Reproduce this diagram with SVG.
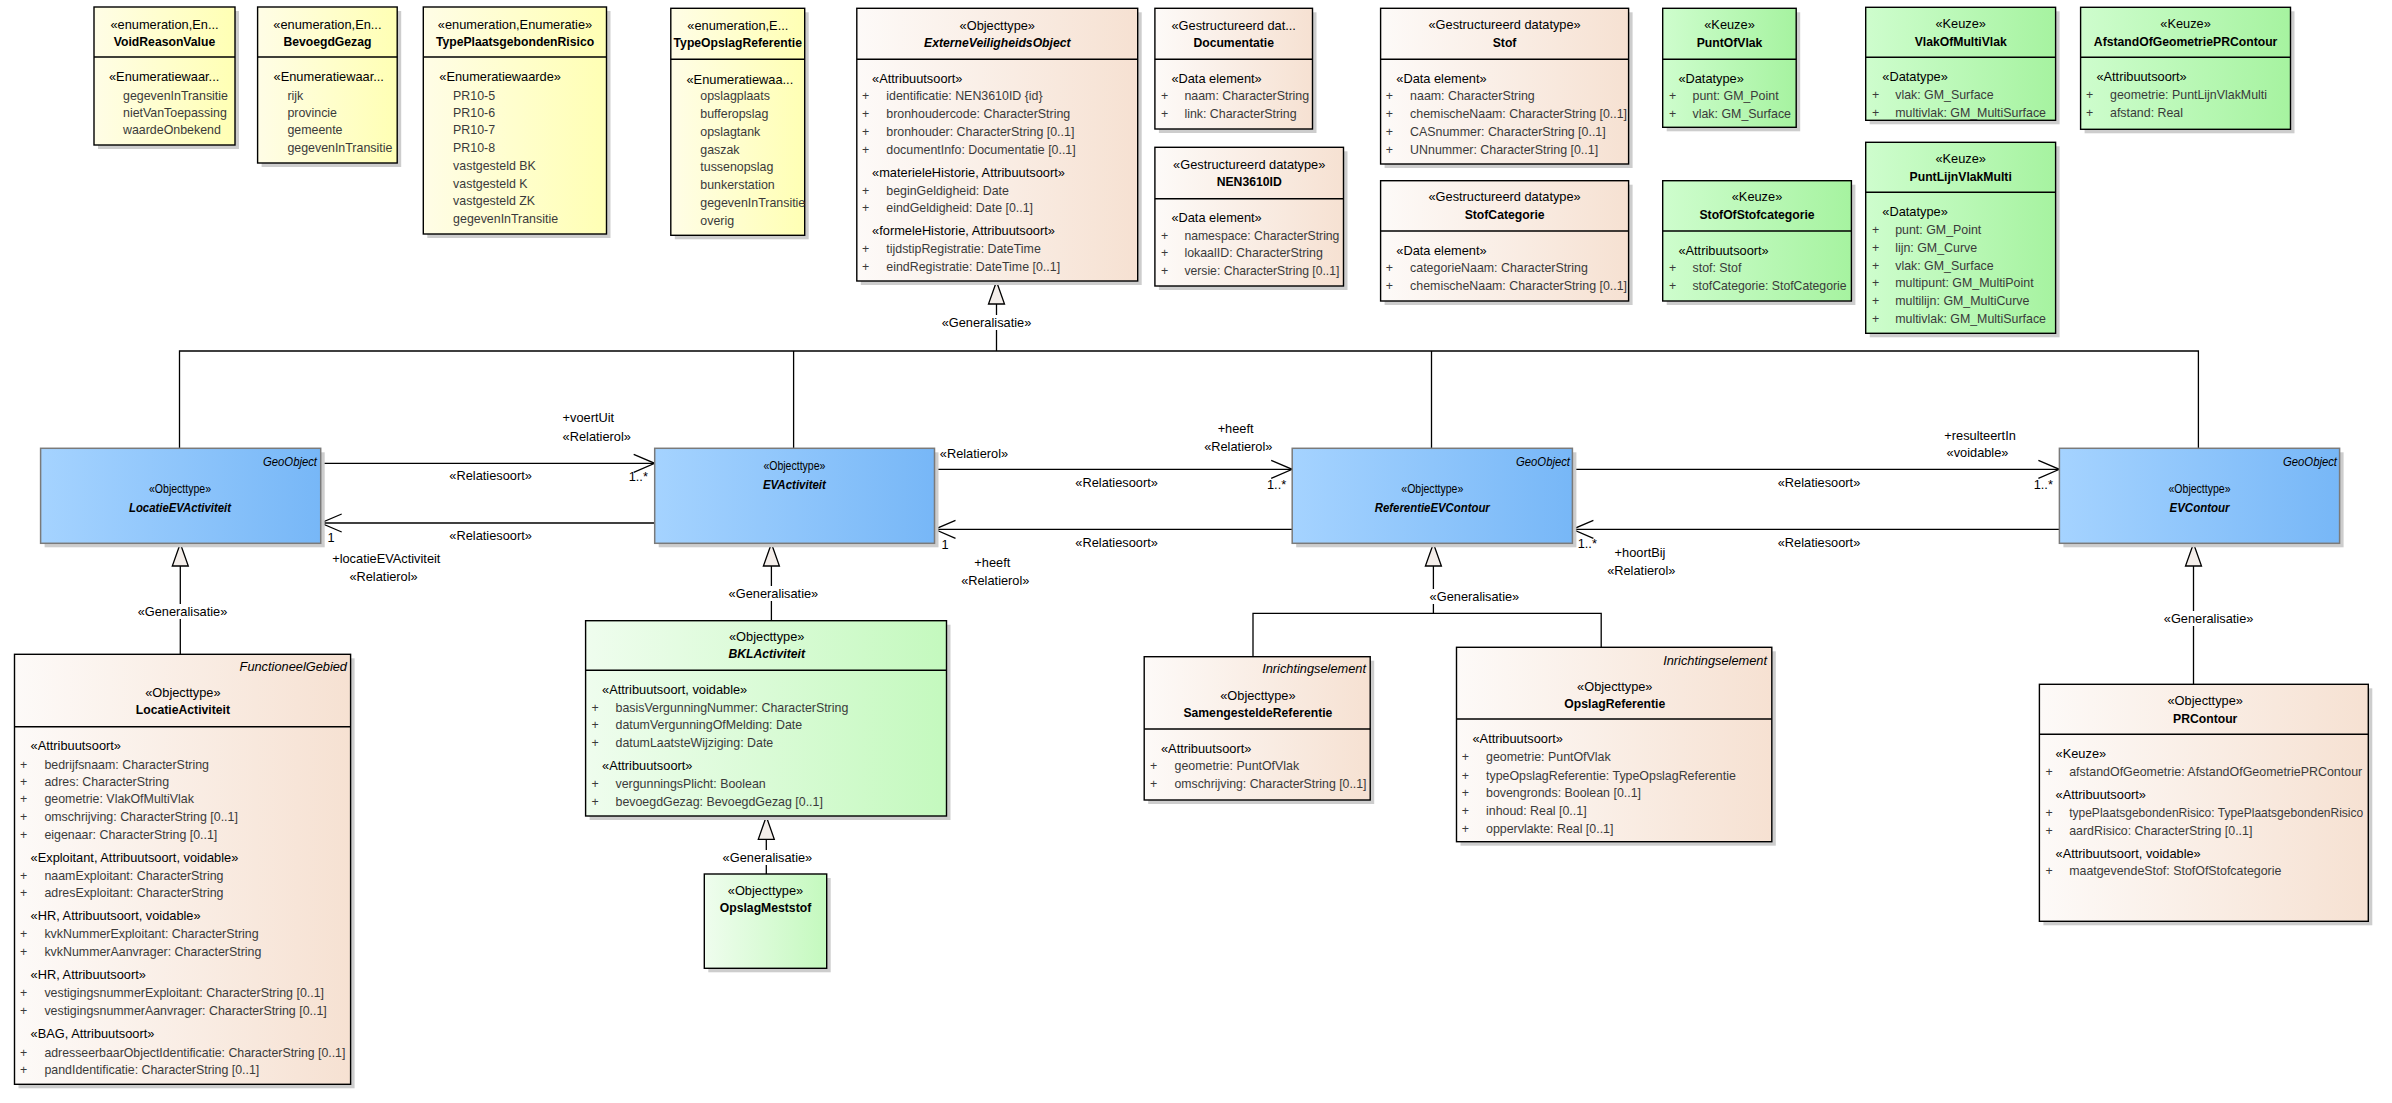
<svg xmlns="http://www.w3.org/2000/svg" width="2392" height="1103" viewBox="0 0 2392 1103">
<defs>
<linearGradient id="gEnum" x1="0" y1="0" x2="1" y2="0"><stop offset="0" stop-color="#fffde6"/><stop offset="1" stop-color="#ffffb4"/></linearGradient>
<linearGradient id="gDt" x1="0" y1="0" x2="1" y2="0"><stop offset="0" stop-color="#fdfaf8"/><stop offset="1" stop-color="#f6e1d2"/></linearGradient>
<linearGradient id="gKeuze" x1="0" y1="0" x2="1" y2="0"><stop offset="0" stop-color="#cefdcd"/><stop offset="1" stop-color="#a6f3a0"/></linearGradient>
<linearGradient id="gLg" x1="0" y1="0" x2="1" y2="0"><stop offset="0" stop-color="#effdee"/><stop offset="1" stop-color="#c4f9be"/></linearGradient>
<linearGradient id="gBlue" x1="0" y1="0" x2="1" y2="0"><stop offset="0" stop-color="#a5d3ff"/><stop offset="1" stop-color="#77b7f7"/></linearGradient>
<marker id="open" viewBox="-23 -11 25 22" refX="0" refY="0" markerWidth="25" markerHeight="22" markerUnits="userSpaceOnUse" orient="auto"><path d="M-21,-9 L0,0 L-21,9" fill="none" stroke="#000" stroke-width="1.3"/></marker>
<style>
.sh{fill:#cdcdcd}
.bx{stroke:#000;stroke-width:1.4}
.bb{stroke:#7a7a7a;stroke-width:1.5}
.dv{stroke:#000;stroke-width:1.4}
text{font-family:"Liberation Sans",Arial,sans-serif;font-size:12.8px;fill:#000}
.c{text-anchor:middle}
.n{font-weight:bold;font-size:12.2px}
.ni{font-weight:bold;font-style:italic;font-size:12.2px}
.a{fill:#3a3a3a;font-size:12.4px}
.p{fill:#3a3a3a;text-anchor:middle;font-size:12.4px}
.r{text-anchor:end;font-style:italic}
.ln{fill:none;stroke:#000;stroke-width:1.3}
.tri{fill:#f4eeea;stroke:#000;stroke-width:1.3}
.wb{fill:#fff}
</style>
</defs>

<g id="connectors">
<polyline class="ln" points="179.5,448.3 179.5,351 2198.4,351 2198.4,448.3"/>
<line class="ln" x1="793.6" y1="351" x2="793.6" y2="448.3"/>
<line class="ln" x1="1431.5" y1="351" x2="1431.5" y2="448.3"/>
<line class="ln" x1="996.5" y1="304" x2="996.5" y2="351"/>
<polygon class="tri" points="996.5,281.5 988.5,304 1004.5,304"/>
<rect class="wb" x="941" y="315" width="91" height="15"/>
<text class="c" x="986.5" y="326.5">«Generalisatie»</text>

<line class="ln" x1="180.3" y1="566" x2="180.3" y2="654.3"/>
<polygon class="tri" points="180.3,543.5 172.3,566 188.3,566"/>
<rect class="wb" x="137" y="604" width="91" height="15"/>
<text class="c" x="182.5" y="616">«Generalisatie»</text>

<line class="ln" x1="771.4" y1="566" x2="771.4" y2="620.7"/>
<polygon class="tri" points="771.4,543.5 763.4,566 779.4,566"/>
<rect class="wb" x="728" y="586" width="91" height="15"/>
<text class="c" x="773.4" y="598">«Generalisatie»</text>

<line class="ln" x1="766.3" y1="839.3" x2="766.3" y2="874"/>
<polygon class="tri" points="766.3,816.5 758.3,839.3 774.3,839.3"/>
<rect class="wb" x="722" y="850" width="91" height="15"/>
<text class="c" x="767.4" y="862">«Generalisatie»</text>

<polyline class="ln" points="1433.4,566 1433.4,613.3"/>
<polyline class="ln" points="1253,656.7 1253,613.3 1601.2,613.3 1601.2,647.3"/>
<polygon class="tri" points="1433.4,543.5 1425.4,566 1441.4,566"/>
<rect class="wb" x="1429" y="589" width="91" height="15"/>
<text class="c" x="1474.4" y="601">«Generalisatie»</text>

<line class="ln" x1="2193.5" y1="566" x2="2193.5" y2="684.3"/>
<polygon class="tri" points="2193.5,543.5 2185.5,566 2201.5,566"/>
<rect class="wb" x="2163" y="611" width="91" height="15"/>
<text class="c" x="2208.6" y="623">«Generalisatie»</text>

<line class="ln" x1="320.7" y1="463.3" x2="654.7" y2="463.3" marker-end="url(#open)"/>
<line class="ln" x1="654.7" y1="523" x2="320.7" y2="523" marker-end="url(#open)"/>
<line class="ln" x1="934.5" y1="469.3" x2="1292.2" y2="469.3" marker-end="url(#open)"/>
<line class="ln" x1="1292.2" y1="529.3" x2="934.5" y2="529.3" marker-end="url(#open)"/>
<line class="ln" x1="1572.4" y1="469.3" x2="2059.4" y2="469.3" marker-end="url(#open)"/>
<line class="ln" x1="2059.4" y1="529.3" x2="1572.4" y2="529.3" marker-end="url(#open)"/>

<text x="562.6" y="422.2">+voertUit</text>
<text x="562.6" y="440.5">«Relatierol»</text>
<text class="c" x="490.6" y="480.2">«Relatiesoort»</text>
<text x="628.7" y="481.2">1..*</text>
<text class="c" x="490.6" y="540.2">«Relatiesoort»</text>
<text x="327.5" y="542.2">1</text>
<text x="332.2" y="563.2">+locatieEVActiviteit</text>
<text x="349.4" y="581.2">«Relatierol»</text>

<text x="939.8" y="458.2">«Relatierol»</text>
<text class="c" x="1116.6" y="487.2">«Relatiesoort»</text>
<text class="c" x="1235.6" y="433.2">+heeft</text>
<text class="c" x="1238.3" y="451.2">«Relatierol»</text>
<text x="1267" y="488.5">1..*</text>
<text class="c" x="1116.6" y="546.8">«Relatiesoort»</text>
<text x="941.5" y="548.8">1</text>
<text class="c" x="992.3" y="566.8">+heeft</text>
<text class="c" x="995.3" y="584.8">«Relatierol»</text>

<text class="c" x="1819" y="487.2">«Relatiesoort»</text>
<text class="c" x="1980.1" y="439.5">+resulteertIn</text>
<text class="c" x="1977.5" y="457.2">«voidable»</text>
<text x="2033.7" y="488.5">1..*</text>
<text class="c" x="1819" y="546.8">«Relatiesoort»</text>
<text x="1577.7" y="547.8">1..*</text>
<text class="c" x="1640" y="557.2">+hoortBij</text>
<text class="c" x="1641.3" y="575.2">«Relatierol»</text>
</g>

<g id="VoidReasonValue">
<rect class="sh" x="98" y="11" width="141" height="138"/>
<rect class="bx" fill="url(#gEnum)" x="94" y="7" width="141" height="138"/>
<line class="dv" x1="94" y1="57" x2="235" y2="57"/>
<text class="c" x="164.5" y="28.5">«enumeration,En...</text>
<text class="c n" x="164.5" y="46">VoidReasonValue</text>
<text x="109" y="81">«Enumeratiewaar...</text>
<text class="a" x="123" y="99.5">gegevenInTransitie</text>
<text class="a" x="123" y="117">nietVanToepassing</text>
<text class="a" x="123" y="134">waardeOnbekend</text>
</g>

<g id="BevoegdGezag">
<rect class="sh" x="261.6" y="11" width="139.6" height="156"/>
<rect class="bx" fill="url(#gEnum)" x="257.6" y="7" width="139.6" height="156"/>
<line class="dv" x1="257.6" y1="57" x2="397.2" y2="57"/>
<text class="c" x="327.4" y="28.5">«enumeration,En...</text>
<text class="c n" x="327.4" y="46">BevoegdGezag</text>
<text x="273.6" y="81">«Enumeratiewaar...</text>
<text class="a" x="287.4" y="99.5">rijk</text>
<text class="a" x="287.4" y="117">provincie</text>
<text class="a" x="287.4" y="134">gemeente</text>
<text class="a" x="287.4" y="152">gegevenInTransitie</text>
</g>

<g id="TypePlaatsgebondenRisico">
<rect class="sh" x="427.3" y="11" width="183.2" height="227"/>
<rect class="bx" fill="url(#gEnum)" x="423.3" y="7" width="183.2" height="227"/>
<line class="dv" x1="423.3" y1="57" x2="606.5" y2="57"/>
<text class="c" x="515" y="28.5">«enumeration,Enumeratie»</text>
<text class="c n" x="515" y="46">TypePlaatsgebondenRisico</text>
<text x="439.3" y="81">«Enumeratiewaarde»</text>
<text class="a" x="453.1" y="99.5">PR10-5</text>
<text class="a" x="453.1" y="117">PR10-6</text>
<text class="a" x="453.1" y="134">PR10-7</text>
<text class="a" x="453.1" y="152">PR10-8</text>
<text class="a" x="453.1" y="170">vastgesteld BK</text>
<text class="a" x="453.1" y="188">vastgesteld K</text>
<text class="a" x="453.1" y="205">vastgesteld ZK</text>
<text class="a" x="453.1" y="223">gegevenInTransitie</text>
</g>

<g id="TypeOpslagReferentie">
<rect class="sh" x="674.8" y="12.3" width="133.9" height="227"/>
<rect class="bx" fill="url(#gEnum)" x="670.8" y="8.3" width="133.9" height="227"/>
<line class="dv" x1="670.8" y1="59.3" x2="804.7" y2="59.3"/>
<text class="c" x="737.8" y="29.5">«enumeration,E...</text>
<text class="c n" x="737.8" y="47">TypeOpslagReferentie</text>
<text x="686.5" y="83.5">«Enumeratiewaa...</text>
<text class="a" x="700.3" y="100.2">opslagplaats</text>
<text class="a" x="700.3" y="118.2">bufferopslag</text>
<text class="a" x="700.3" y="136.2">opslagtank</text>
<text class="a" x="700.3" y="154.2">gaszak</text>
<text class="a" x="700.3" y="171.2">tussenopslag</text>
<text class="a" x="700.3" y="188.8">bunkerstation</text>
<text class="a" x="700.3" y="206.8">gegevenInTransitie</text>
<text class="a" x="700.3" y="225.2">overig</text>
</g>

<g id="ExterneVeiligheidsObject">
<rect class="sh" x="860.8" y="12.3" width="280.9" height="272.7"/>
<rect class="bx" fill="url(#gDt)" x="856.8" y="8.3" width="280.9" height="272.7"/>
<line class="dv" x1="856.8" y1="59.3" x2="1137.7" y2="59.3"/>
<text class="c" x="997.3" y="29.5">«Objecttype»</text>
<text class="c ni" x="997.3" y="47">ExterneVeiligheidsObject</text>
<text x="872.1" y="83.2">«Attribuutsoort»</text>
<text class="p" x="865.6" y="100.2">+</text><text class="a" x="886.3" y="100.2">identificatie: NEN3610ID {id}</text>
<text class="p" x="865.6" y="118.2">+</text><text class="a" x="886.3" y="118.2">bronhoudercode: CharacterString</text>
<text class="p" x="865.6" y="136.2">+</text><text class="a" x="886.3" y="136.2">bronhouder: CharacterString [0..1]</text>
<text class="p" x="865.6" y="154.2">+</text><text class="a" x="886.3" y="154.2">documentInfo: Documentatie [0..1]</text>
<text x="872.1" y="177.2">«materieleHistorie, Attribuutsoort»</text>
<text class="p" x="865.6" y="195.2">+</text><text class="a" x="886.3" y="195.2">beginGeldigheid: Date</text>
<text class="p" x="865.6" y="212.2">+</text><text class="a" x="886.3" y="212.2">eindGeldigheid: Date [0..1]</text>
<text x="872.1" y="234.8">«formeleHistorie, Attribuutsoort»</text>
<text class="p" x="865.6" y="252.8">+</text><text class="a" x="886.3" y="252.8">tijdstipRegistratie: DateTime</text>
<text class="p" x="865.6" y="271.2">+</text><text class="a" x="886.3" y="271.2">eindRegistratie: DateTime [0..1]</text>
</g>

<g id="Documentatie">
<rect class="sh" x="1158.9" y="12.3" width="157.6" height="120.7"/>
<rect class="bx" fill="url(#gDt)" x="1154.9" y="8.3" width="157.6" height="120.7"/>
<line class="dv" x1="1154.9" y1="59.3" x2="1312.5" y2="59.3"/>
<text class="c" x="1233.7" y="29.5">«Gestructureerd dat...</text>
<text class="c n" x="1233.7" y="47">Documentatie</text>
<text x="1171.4" y="83.2">«Data element»</text>
<text class="p" x="1164.5" y="100.2">+</text><text class="a" x="1184.4" y="100.2">naam: CharacterString</text>
<text class="p" x="1164.5" y="118.2">+</text><text class="a" x="1184.4" y="118.2">link: CharacterString</text>
</g>

<g id="NEN3610ID">
<rect class="sh" x="1158.9" y="151.3" width="188.6" height="138.7"/>
<rect class="bx" fill="url(#gDt)" x="1154.9" y="147.3" width="188.6" height="138.7"/>
<line class="dv" x1="1154.9" y1="198.7" x2="1343.5" y2="198.7"/>
<text class="c" x="1249.2" y="168.8">«Gestructureerd datatype»</text>
<text class="c n" x="1249.2" y="186.2">NEN3610ID</text>
<text x="1171.4" y="221.8">«Data element»</text>
<text class="p" x="1164.5" y="240.2">+</text><text class="a" x="1184.4" y="240.2" textLength="155" lengthAdjust="spacingAndGlyphs">namespace: CharacterString</text>
<text class="p" x="1164.5" y="257.2">+</text><text class="a" x="1184.4" y="257.2">lokaalID: CharacterString</text>
<text class="p" x="1164.5" y="275.2">+</text><text class="a" x="1184.4" y="275.2" textLength="155" lengthAdjust="spacingAndGlyphs">versie: CharacterString [0..1]</text>
</g>

<g id="Stof">
<rect class="sh" x="1384.6" y="12.3" width="248" height="155.7"/>
<rect class="bx" fill="url(#gDt)" x="1380.6" y="8.3" width="248" height="155.7"/>
<line class="dv" x1="1380.6" y1="59.3" x2="1628.6" y2="59.3"/>
<text class="c" x="1504.6" y="29">«Gestructureerd datatype»</text>
<text class="c n" x="1504.6" y="47">Stof</text>
<text x="1396.3" y="83.2">«Data element»</text>
<text class="p" x="1389.4" y="100.2">+</text><text class="a" x="1410.1" y="100.2">naam: CharacterString</text>
<text class="p" x="1389.4" y="118.2">+</text><text class="a" x="1410.1" y="118.2">chemischeNaam: CharacterString [0..1]</text>
<text class="p" x="1389.4" y="136.2">+</text><text class="a" x="1410.1" y="136.2">CASnummer: CharacterString [0..1]</text>
<text class="p" x="1389.4" y="154.2">+</text><text class="a" x="1410.1" y="154.2">UNnummer: CharacterString [0..1]</text>
</g>

<g id="StofCategorie">
<rect class="sh" x="1384.6" y="184.7" width="248" height="120.3"/>
<rect class="bx" fill="url(#gDt)" x="1380.6" y="180.7" width="248" height="120.3"/>
<line class="dv" x1="1380.6" y1="231" x2="1628.6" y2="231"/>
<text class="c" x="1504.6" y="201.2">«Gestructureerd datatype»</text>
<text class="c n" x="1504.6" y="218.8">StofCategorie</text>
<text x="1396.3" y="254.8">«Data element»</text>
<text class="p" x="1389.4" y="272.2">+</text><text class="a" x="1410.1" y="272.2">categorieNaam: CharacterString</text>
<text class="p" x="1389.4" y="290.2">+</text><text class="a" x="1410.1" y="290.2">chemischeNaam: CharacterString [0..1]</text>
</g>

<g id="PuntOfVlak">
<rect class="sh" x="1666.7" y="12.3" width="133.5" height="119"/>
<rect class="bx" fill="url(#gKeuze)" x="1662.7" y="8.3" width="133.5" height="119"/>
<line class="dv" x1="1662.7" y1="59.3" x2="1796.2" y2="59.3"/>
<text class="c" x="1729.5" y="29">«Keuze»</text>
<text class="c n" x="1729.5" y="47">PuntOfVlak</text>
<text x="1678.4" y="83.2">«Datatype»</text>
<text class="p" x="1672.6" y="100.2">+</text><text class="a" x="1692.5" y="100.2">punt: GM_Point</text>
<text class="p" x="1672.6" y="118.2">+</text><text class="a" x="1692.5" y="118.2">vlak: GM_Surface</text>
</g>

<g id="StofOfStofcategorie">
<rect class="sh" x="1666.7" y="184.7" width="188.7" height="120.3"/>
<rect class="bx" fill="url(#gKeuze)" x="1662.7" y="180.7" width="188.7" height="120.3"/>
<line class="dv" x1="1662.7" y1="231" x2="1851.4" y2="231"/>
<text class="c" x="1757" y="201.2">«Keuze»</text>
<text class="c n" x="1757" y="218.8">StofOfStofcategorie</text>
<text x="1678.4" y="254.8">«Attribuutsoort»</text>
<text class="p" x="1672.6" y="272.2">+</text><text class="a" x="1692.5" y="272.2">stof: Stof</text>
<text class="p" x="1672.6" y="290.2">+</text><text class="a" x="1692.5" y="290.2" textLength="154" lengthAdjust="spacingAndGlyphs">stofCategorie: StofCategorie</text>
</g>

<g id="VlakOfMultiVlak">
<rect class="sh" x="1869.7" y="11.3" width="189.9" height="113"/>
<rect class="bx" fill="url(#gKeuze)" x="1865.7" y="7.3" width="189.9" height="113"/>
<line class="dv" x1="1865.7" y1="57.3" x2="2055.6" y2="57.3"/>
<text class="c" x="1960.7" y="28">«Keuze»</text>
<text class="c n" x="1960.7" y="46">VlakOfMultiVlak</text>
<text x="1882.3" y="81.2">«Datatype»</text>
<text class="p" x="1875.5" y="99.2">+</text><text class="a" x="1895.2" y="99.2">vlak: GM_Surface</text>
<text class="p" x="1875.5" y="117.2">+</text><text class="a" x="1895.2" y="117.2">multivlak: GM_MultiSurface</text>
</g>

<g id="AfstandOfGeometriePRContour">
<rect class="sh" x="2084.6" y="11.3" width="209.9" height="122"/>
<rect class="bx" fill="url(#gKeuze)" x="2080.6" y="7.3" width="209.9" height="122"/>
<line class="dv" x1="2080.6" y1="57.3" x2="2290.5" y2="57.3"/>
<text class="c" x="2185.6" y="28">«Keuze»</text>
<text class="c n" x="2185.6" y="46">AfstandOfGeometriePRContour</text>
<text x="2096.4" y="81.2">«Attribuutsoort»</text>
<text class="p" x="2089.6" y="99.2">+</text><text class="a" x="2110" y="99.2">geometrie: PuntLijnVlakMulti</text>
<text class="p" x="2089.6" y="117.2">+</text><text class="a" x="2110" y="117.2">afstand: Real</text>
</g>

<g id="PuntLijnVlakMulti">
<rect class="sh" x="1869.7" y="146.3" width="189.9" height="191"/>
<rect class="bx" fill="url(#gKeuze)" x="1865.7" y="142.3" width="189.9" height="191"/>
<line class="dv" x1="1865.7" y1="192.3" x2="2055.6" y2="192.3"/>
<text class="c" x="1960.7" y="162.8">«Keuze»</text>
<text class="c n" x="1960.7" y="180.8">PuntLijnVlakMulti</text>
<text x="1882.3" y="216.2">«Datatype»</text>
<text class="p" x="1875.5" y="234.2">+</text><text class="a" x="1895.2" y="234.2">punt: GM_Point</text>
<text class="p" x="1875.5" y="252.2">+</text><text class="a" x="1895.2" y="252.2">lijn: GM_Curve</text>
<text class="p" x="1875.5" y="270.2">+</text><text class="a" x="1895.2" y="270.2">vlak: GM_Surface</text>
<text class="p" x="1875.5" y="287.2">+</text><text class="a" x="1895.2" y="287.2">multipunt: GM_MultiPoint</text>
<text class="p" x="1875.5" y="305.2">+</text><text class="a" x="1895.2" y="305.2">multilijn: GM_MultiCurve</text>
<text class="p" x="1875.5" y="323.2">+</text><text class="a" x="1895.2" y="323.2">multivlak: GM_MultiSurface</text>
</g>

<g id="LocatieEVActiviteit">
<rect class="sh" x="44.6" y="452.3" width="280.1" height="95"/>
<rect class="bb" fill="url(#gBlue)" x="40.6" y="448.3" width="280.1" height="95"/>
<text class="r" x="317" y="466.2" textLength="54" lengthAdjust="spacingAndGlyphs">GeoObject</text>
<text class="c" x="180" y="492.8" textLength="62" lengthAdjust="spacingAndGlyphs">«Objecttype»</text>
<text class="c ni" x="180" y="511.8" textLength="102" lengthAdjust="spacingAndGlyphs">LocatieEVActiviteit</text>
</g>

<g id="EVActiviteit">
<rect class="sh" x="658.7" y="452.3" width="279.8" height="95"/>
<rect class="bb" fill="url(#gBlue)" x="654.7" y="448.3" width="279.8" height="95"/>
<text class="c" x="794.4" y="469.8" textLength="62" lengthAdjust="spacingAndGlyphs">«Objecttype»</text>
<text class="c ni" x="794.4" y="488.8" textLength="63" lengthAdjust="spacingAndGlyphs">EVActiviteit</text>
</g>

<g id="ReferentieEVContour">
<rect class="sh" x="1296.2" y="452.3" width="280.2" height="95"/>
<rect class="bb" fill="url(#gBlue)" x="1292.2" y="448.3" width="280.2" height="95"/>
<text class="r" x="1570" y="466.2" textLength="54" lengthAdjust="spacingAndGlyphs">GeoObject</text>
<text class="c" x="1432.3" y="492.8" textLength="62" lengthAdjust="spacingAndGlyphs">«Objecttype»</text>
<text class="c ni" x="1432.3" y="511.8" textLength="115" lengthAdjust="spacingAndGlyphs">ReferentieEVContour</text>
</g>

<g id="EVContour">
<rect class="sh" x="2063.4" y="452.3" width="280.2" height="95"/>
<rect class="bb" fill="url(#gBlue)" x="2059.4" y="448.3" width="280.2" height="95"/>
<text class="r" x="2337" y="466.2" textLength="54" lengthAdjust="spacingAndGlyphs">GeoObject</text>
<text class="c" x="2199.5" y="492.8" textLength="62" lengthAdjust="spacingAndGlyphs">«Objecttype»</text>
<text class="c ni" x="2199.5" y="511.8" textLength="60" lengthAdjust="spacingAndGlyphs">EVContour</text>
</g>

<g id="BKLActiviteit">
<rect class="sh" x="589.6" y="624.7" width="360.9" height="195.3"/>
<rect class="bx" fill="url(#gLg)" x="585.6" y="620.7" width="360.9" height="195.3"/>
<line class="dv" x1="585.6" y1="670.3" x2="946.5" y2="670.3"/>
<text class="c" x="766.7" y="641.2">«Objecttype»</text>
<text class="c ni" x="766.7" y="657.8">BKLActiviteit</text>
<text x="602.1" y="693.8">«Attribuutsoort, voidable»</text>
<text class="p" x="595.2" y="712.2">+</text><text class="a" x="615.5" y="712.2">basisVergunningNummer: CharacterString</text>
<text class="p" x="595.2" y="729.2">+</text><text class="a" x="615.5" y="729.2">datumVergunningOfMelding: Date</text>
<text class="p" x="595.2" y="747.2">+</text><text class="a" x="615.5" y="747.2">datumLaatsteWijziging: Date</text>
<text x="602.1" y="769.8">«Attribuutsoort»</text>
<text class="p" x="595.2" y="787.8">+</text><text class="a" x="615.5" y="787.8">vergunningsPlicht: Boolean</text>
<text class="p" x="595.2" y="806.2">+</text><text class="a" x="615.5" y="806.2">bevoegdGezag: BevoegdGezag [0..1]</text>
</g>

<g id="OpslagMeststof">
<rect class="sh" x="708.3" y="878" width="122.4" height="94.3"/>
<rect class="bx" fill="url(#gLg)" x="704.3" y="874" width="122.4" height="94.3"/>
<text class="c" x="765.5" y="895.2">«Objecttype»</text>
<text class="c n" x="765.5" y="911.8">OpslagMeststof</text>
</g>

<g id="SamengesteldeReferentie">
<rect class="sh" x="1148.2" y="660.7" width="226" height="143.3"/>
<rect class="bx" fill="url(#gDt)" x="1144.2" y="656.7" width="226" height="143.3"/>
<line class="dv" x1="1144.2" y1="729" x2="1370.2" y2="729"/>
<text class="r" x="1366" y="673.2">Inrichtingselement</text>
<text class="c" x="1257.9" y="699.8">«Objecttype»</text>
<text class="c n" x="1257.9" y="717.2">SamengesteldeReferentie</text>
<text x="1161" y="752.5">«Attribuutsoort»</text>
<text class="p" x="1153.5" y="770.2">+</text><text class="a" x="1174.5" y="770.2">geometrie: PuntOfVlak</text>
<text class="p" x="1153.5" y="788.2">+</text><text class="a" x="1174.5" y="788.2" textLength="192" lengthAdjust="spacingAndGlyphs">omschrijving: CharacterString [0..1]</text>
</g>

<g id="OpslagReferentie">
<rect class="sh" x="1460.5" y="651.3" width="315.3" height="194.4"/>
<rect class="bx" fill="url(#gDt)" x="1456.5" y="647.3" width="315.3" height="194.4"/>
<line class="dv" x1="1456.5" y1="719" x2="1771.8" y2="719"/>
<text class="r" x="1767" y="664.5">Inrichtingselement</text>
<text class="c" x="1614.8" y="690.5">«Objecttype»</text>
<text class="c n" x="1614.8" y="707.8">OpslagReferentie</text>
<text x="1472.5" y="742.8">«Attribuutsoort»</text>
<text class="p" x="1465.4" y="761.2">+</text><text class="a" x="1486" y="761.2">geometrie: PuntOfVlak</text>
<text class="p" x="1465.4" y="779.5">+</text><text class="a" x="1486" y="779.5">typeOpslagReferentie: TypeOpslagReferentie</text>
<text class="p" x="1465.4" y="796.8">+</text><text class="a" x="1486" y="796.8">bovengronds: Boolean [0..1]</text>
<text class="p" x="1465.4" y="814.5">+</text><text class="a" x="1486" y="814.5">inhoud: Real [0..1]</text>
<text class="p" x="1465.4" y="832.8">+</text><text class="a" x="1486" y="832.8">oppervlakte: Real [0..1]</text>
</g>

<g id="PRContour">
<rect class="sh" x="2043.4" y="688.3" width="328.9" height="237"/>
<rect class="bx" fill="url(#gDt)" x="2039.4" y="684.3" width="328.9" height="237"/>
<line class="dv" x1="2039.4" y1="734.3" x2="2368.3" y2="734.3"/>
<text class="c" x="2205.2" y="704.8">«Objecttype»</text>
<text class="c n" x="2205.2" y="723.2">PRContour</text>
<text x="2055.6" y="758.2">«Keuze»</text>
<text class="p" x="2049.2" y="776.2">+</text><text class="a" x="2069.2" y="776.2" textLength="293" lengthAdjust="spacingAndGlyphs">afstandOfGeometrie: AfstandOfGeometriePRContour</text>
<text x="2055.6" y="798.8">«Attribuutsoort»</text>
<text class="p" x="2049.2" y="817.2">+</text><text class="a" x="2069.2" y="817.2" textLength="294" lengthAdjust="spacingAndGlyphs">typePlaatsgebondenRisico: TypePlaatsgebondenRisico</text>
<text class="p" x="2049.2" y="835.2">+</text><text class="a" x="2069.2" y="835.2">aardRisico: CharacterString [0..1]</text>
<text x="2055.6" y="857.8">«Attribuutsoort, voidable»</text>
<text class="p" x="2049.2" y="875.2">+</text><text class="a" x="2069.2" y="875.2">maatgevendeStof: StofOfStofcategorie</text>
</g>

<g id="LocatieActiviteit">
<rect class="sh" x="18.5" y="658.3" width="336.1" height="430"/>
<rect class="bx" fill="url(#gDt)" x="14.5" y="654.3" width="336.1" height="430"/>
<line class="dv" x1="14.5" y1="726.7" x2="350.6" y2="726.7"/>
<text class="r" x="347" y="670.8">FunctioneelGebied</text>
<text class="c" x="182.9" y="697.2">«Objecttype»</text>
<text class="c n" x="182.9" y="714.2">LocatieActiviteit</text>
<text x="30.6" y="750.2">«Attribuutsoort»</text>
<text class="p" x="23.7" y="768.5">+</text><text class="a" x="44.4" y="768.5">bedrijfsnaam: CharacterString</text>
<text class="p" x="23.7" y="785.5">+</text><text class="a" x="44.4" y="785.5">adres: CharacterString</text>
<text class="p" x="23.7" y="803.2">+</text><text class="a" x="44.4" y="803.2">geometrie: VlakOfMultiVlak</text>
<text class="p" x="23.7" y="821.2">+</text><text class="a" x="44.4" y="821.2">omschrijving: CharacterString [0..1]</text>
<text class="p" x="23.7" y="839.2">+</text><text class="a" x="44.4" y="839.2">eigenaar: CharacterString [0..1]</text>
<text x="30.6" y="862.2">«Exploitant, Attribuutsoort, voidable»</text>
<text class="p" x="23.7" y="880.2">+</text><text class="a" x="44.4" y="880.2">naamExploitant: CharacterString</text>
<text class="p" x="23.7" y="897.2">+</text><text class="a" x="44.4" y="897.2">adresExploitant: CharacterString</text>
<text x="30.6" y="920.2">«HR, Attribuutsoort, voidable»</text>
<text class="p" x="23.7" y="938.2">+</text><text class="a" x="44.4" y="938.2">kvkNummerExploitant: CharacterString</text>
<text class="p" x="23.7" y="956.2">+</text><text class="a" x="44.4" y="956.2">kvkNummerAanvrager: CharacterString</text>
<text x="30.6" y="978.8">«HR, Attribuutsoort»</text>
<text class="p" x="23.7" y="997.2">+</text><text class="a" x="44.4" y="997.2">vestigingsnummerExploitant: CharacterString [0..1]</text>
<text class="p" x="23.7" y="1015.2">+</text><text class="a" x="44.4" y="1015.2">vestigingsnummerAanvrager: CharacterString [0..1]</text>
<text x="30.6" y="1038.2">«BAG, Attribuutsoort»</text>
<text class="p" x="23.7" y="1056.5">+</text><text class="a" x="44.4" y="1056.5" textLength="301" lengthAdjust="spacingAndGlyphs">adresseerbaarObjectIdentificatie: CharacterString [0..1]</text>
<text class="p" x="23.7" y="1073.5">+</text><text class="a" x="44.4" y="1073.5">pandIdentificatie: CharacterString [0..1]</text>
</g>
</svg>
